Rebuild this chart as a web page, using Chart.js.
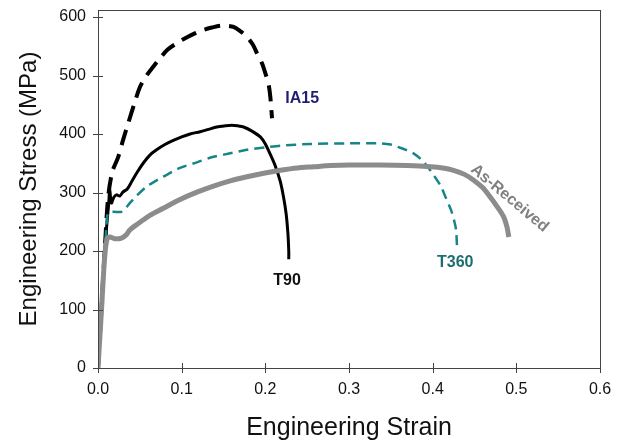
<!DOCTYPE html>
<html><head><meta charset="utf-8">
<script src="https://cdn.jsdelivr.net/npm/chart.js@4.4.0/dist/chart.umd.min.js"></script>
<style>html,body{margin:0;padding:0;background:#fff}#wrap{width:625px;height:443px}</style>
</head><body><div id="wrap"><canvas id="c" width="625" height="443"></canvas></div>
<script>
const xTicks = [0.0, 0.1, 0.2, 0.3, 0.4, 0.5, 0.6];
const yTicks = [0, 100, 200, 300, 400, 500, 600];
const seriesNames = ["IA15", "T90", "T360", "As-Received"];

const ia15 = [[0,0],[0.004,100],[0.008,200],[0.012,290],[0.017,335],[0.024,360],[0.03,390],[0.036,418],[0.043,450],[0.05,480],[0.058,500],[0.066,515],[0.075,531],[0.083,544],[0.095,556],[0.107,566],[0.117,573],[0.126,578],[0.136,582],[0.146,585],[0.155,585],[0.162,583],[0.17,576],[0.178,566],[0.185,553],[0.19,538],[0.196,521],[0.2,504],[0.204,484],[0.206,463],[0.207,445],[0.208,427]];
const t90 = [[0,0],[0.004,100],[0.008,200],[0.011,253],[0.013,285],[0.014,305],[0.016,282],[0.019,292],[0.022,296],[0.026,294],[0.03,301],[0.035,306],[0.04,318],[0.047,335],[0.054,350],[0.062,364],[0.07,373],[0.08,382],[0.09,389],[0.1,395],[0.11,400],[0.122,404],[0.132,408],[0.142,412],[0.152,414],[0.16,415],[0.167,414],[0.174,412],[0.184,405],[0.194,395],[0.2,383],[0.206,365],[0.212,345],[0.218,318],[0.222,290],[0.225,262],[0.227,230],[0.228,200],[0.228,186]];
const t360 = [[0,0],[0.004,100],[0.008,200],[0.01,240],[0.012,265],[0.018,267],[0.028,267],[0.034,275],[0.038,282],[0.046,294],[0.058,310],[0.068,319],[0.078,327],[0.098,342],[0.119,352],[0.138,361],[0.158,367],[0.178,373],[0.2,377],[0.218,380],[0.254,383],[0.3,384],[0.338,384],[0.35,382],[0.358,378],[0.368,373],[0.377,367],[0.386,357],[0.394,344],[0.402,328],[0.41,310],[0.416,290],[0.422,270],[0.426,250],[0.428,236],[0.429,210]];
const asReceived = [[0,0],[0.004,95],[0.008,190],[0.011,222],[0.014,224],[0.02,221],[0.028,222],[0.034,228],[0.038,236],[0.046,245],[0.054,253],[0.062,261],[0.078,273],[0.098,288],[0.119,301],[0.138,311],[0.158,320],[0.178,327],[0.198,333],[0.218,338],[0.238,342],[0.258,344],[0.278,346],[0.3,347],[0.338,347],[0.37,346],[0.398,344],[0.412,342],[0.425,338],[0.438,331],[0.449,321],[0.46,308],[0.469,292],[0.477,276],[0.485,258],[0.489,240],[0.491,224]];

const labelPos = [[0.244,460],[0.226,150],[0.427,180],[0.492,290]];

const toPts = a => a.map(p => ({x:p[0], y:p[1]}));
const FONT = "'Liberation Sans', Arial, sans-serif";

const decor = {
  id:'decor',
  afterDraw(chart){
    const {ctx, chartArea:ca, scales:{x,y}} = chart;
    ctx.save();
    ctx.strokeStyle = '#444'; ctx.lineWidth = 1;
    ctx.strokeRect(Math.round(ca.left)+0.5, Math.round(ca.top)+0.5, Math.round(ca.right-ca.left), Math.round(ca.bottom-ca.top));
    xTicks.forEach(v => { const px = Math.round(x.getPixelForValue(v))+0.5; ctx.beginPath(); ctx.moveTo(px, ca.bottom-5); ctx.lineTo(px, ca.bottom+5); ctx.stroke(); });
    yTicks.forEach(v => { const py = Math.round(y.getPixelForValue(v))+0.5; ctx.beginPath(); ctx.moveTo(ca.left-5, py); ctx.lineTo(ca.left+5, py); ctx.stroke(); });
    ctx.font = "bold 16px " + FONT; ctx.textAlign='center'; ctx.textBaseline='middle';
    const cols = ['#1f1f6e','#111','#1d6f6f','#808080'];
    seriesNames.forEach((n,i)=>{
      const px = x.getPixelForValue(labelPos[i][0]), py = y.getPixelForValue(labelPos[i][1]);
      ctx.fillStyle = cols[i];
      ctx.save(); ctx.translate(px, py);
      if (i===3) ctx.rotate(40*Math.PI/180);
      ctx.fillText(n, 0, 0); ctx.restore();
    });
    ctx.restore();
  }
};

new Chart(document.getElementById('c'), {
  type:'line',
  data:{ datasets:[
    {label:seriesNames[3], data:toPts(asReceived), borderColor:'#8c8c8c', borderWidth:5, pointRadius:0, tension:0.3, fill:false, borderCapStyle:'butt'},
    {label:seriesNames[2], data:toPts(t360), borderColor:'#178585', borderWidth:2.5, borderDash:[10,6], pointRadius:0, tension:0.3, fill:false},
    {label:seriesNames[1], data:toPts(t90), borderColor:'#000', borderWidth:3, pointRadius:0, tension:0.3, fill:false},
    {label:seriesNames[0], data:toPts(ia15), borderColor:'#000', borderWidth:4, borderDash:[16,9], pointRadius:0, tension:0.3, fill:false}
  ]},
  options:{
    responsive:false, animation:false, devicePixelRatio:1,
    layout:{padding:{top:10,right:25,left:0,bottom:0}},
    plugins:{legend:{display:false}, tooltip:{enabled:false}},
    scales:{
      x:{type:'linear', min:0, max:0.6,
        afterBuildTicks(s){ s.ticks = xTicks.map(v=>({value:v})); },
        afterFit(s){ s.height = 75; s.paddingLeft = 0; s.paddingRight = 0; },
        grid:{display:false, drawTicks:false}, border:{display:false},
        ticks:{padding:12, color:'#111', font:{family:FONT, size:16}, callback:v=>Number(v).toFixed(1)},
        title:{display:true, text:'Engineering Strain', color:'#111', font:{family:FONT, size:25}, padding:0}
      },
      y:{type:'linear', min:0, max:612,
        afterBuildTicks(s){ s.ticks = yTicks.map(v=>({value:v})); },
        afterFit(s){ s.width = 98; s.paddingTop = 0; s.paddingBottom = 0; },
        grid:{display:false, drawTicks:false}, border:{display:false},
        ticks:{padding:12, color:'#111', font:{family:FONT, size:16}},
        title:{display:true, text:'Engineering Stress (MPa)', color:'#111', font:{family:FONT, size:24}, padding:15}
      }
    }
  },
  plugins:[decor]
});
</script></body></html>
